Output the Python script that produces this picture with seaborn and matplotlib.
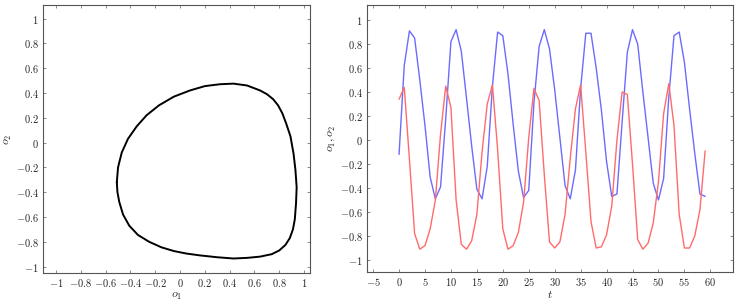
import seaborn as sns
import matplotlib.pyplot as plt
from matplotlib.ticker import MultipleLocator, FuncFormatter

# 极限环轨迹 (o1, o2)，按顺时针读取
cycle_o1 = [-0.51, -0.50, -0.47, -0.42, -0.35, -0.27, -0.17, -0.05, 0.08, 0.20,
            0.32, 0.43, 0.54, 0.645, 0.70, 0.75, 0.79, 0.825, 0.855, 0.89,
            0.915, 0.93, 0.94, 0.935, 0.925, 0.91, 0.885, 0.85, 0.80, 0.74,
            0.645, 0.54, 0.43, 0.30, 0.16, 0.05, -0.05, -0.15, -0.25, -0.34,
            -0.41, -0.46, -0.49, -0.505, -0.51]
cycle_o2 = [-0.32, -0.20, -0.08, 0.03, 0.13, 0.22, 0.30, 0.37, 0.42, 0.455,
            0.47, 0.475, 0.46, 0.42, 0.39, 0.35, 0.30, 0.235, 0.155, 0.05,
            -0.09, -0.22, -0.36, -0.49, -0.62, -0.70, -0.77, -0.825, -0.87, -0.90,
            -0.92, -0.93, -0.935, -0.925, -0.91, -0.895, -0.875, -0.845, -0.80, -0.745,
            -0.67, -0.58, -0.48, -0.40, -0.32]

# 时间序列
t = list(range(60))
o1 = [-0.12, 0.62, 0.91, 0.85, 0.50, 0.12, -0.31, -0.49, -0.39, 0.18,
      0.82, 0.92, 0.74, 0.35, -0.05, -0.41, -0.49, -0.22, 0.45, 0.90,
      0.87, 0.55, 0.13, -0.26, -0.48, -0.42, 0.31, 0.78, 0.92, 0.76,
      0.42, 0.02, -0.38, -0.49, -0.25, 0.43, 0.89, 0.89, 0.60, 0.25,
      -0.18, -0.47, -0.45, 0.15, 0.73, 0.92, 0.80, 0.40, 0.02, -0.36,
      -0.50, -0.32, 0.36, 0.87, 0.90, 0.65, 0.26, -0.11, -0.45, -0.47]
o2 = [0.34, 0.44, -0.16, -0.78, -0.91, -0.88, -0.74, -0.50, 0.05, 0.45,
      0.27, -0.50, -0.87, -0.91, -0.84, -0.62, -0.10, 0.30, 0.46, -0.08,
      -0.74, -0.91, -0.88, -0.77, -0.52, 0.02, 0.43, 0.33, -0.29, -0.85,
      -0.90, -0.85, -0.62, -0.15, 0.26, 0.46, -0.10, -0.68, -0.90, -0.89,
      -0.79, -0.55, 0.00, 0.40, 0.38, -0.20, -0.83, -0.91, -0.86, -0.69,
      -0.35, 0.22, 0.47, 0.12, -0.62, -0.90, -0.90, -0.80, -0.58, -0.09]

sns.set_style('ticks')
plt.rcParams['mathtext.fontset'] = 'cm'
plt.rcParams['font.family'] = ['DejaVu Serif']
plt.rcParams['font.size'] = 7.5


def fmt(v, pos):
    v = round(v, 2) + 0.0
    return f'${v:g}$'


fig = plt.figure(figsize=(7.43, 3.03), dpi=100)
ax1 = fig.add_axes([0.0579, 0.099, 0.3594, 0.8845])
ax2 = fig.add_axes([0.494, 0.1023, 0.4926, 0.881])

# 左图：相平面
sns.lineplot(x=cycle_o1, y=cycle_o2, sort=False, estimator=None, color='black', lw=1.4, ax=ax1)
ax1.lines[0].set_solid_joinstyle('round')
ax1.set_xlim(-1.105, 1.048)
ax1.set_ylim(-1.052, 1.109)
ax1.xaxis.set_major_locator(MultipleLocator(0.2))
ax1.yaxis.set_major_locator(MultipleLocator(0.2))
ax1.set_xlabel('$o_1$', fontsize=8.5, labelpad=0)
ax1.set_ylabel('$o_2$', fontsize=8.5, labelpad=1)

# 右图：时间序列
sns.lineplot(x=t, y=o1, estimator=None, color='#6b6bff', lw=1.0, ax=ax2)
sns.lineplot(x=t, y=o2, estimator=None, color='#ff6b6b', lw=1.0, ax=ax2)
ax2.set_xlim(-6.17, 64.38)
ax2.set_ylim(-1.1, 1.125)
ax2.xaxis.set_major_locator(MultipleLocator(5))
ax2.yaxis.set_major_locator(MultipleLocator(0.2))
ax2.set_xlabel('$t$', fontsize=8.5, labelpad=0)
ax2.set_ylabel('$o_1, o_2$', fontsize=8.5, labelpad=2)

for ax in (ax1, ax2):
    ax.xaxis.set_major_formatter(FuncFormatter(fmt))
    ax.yaxis.set_major_formatter(FuncFormatter(fmt))
    ax.tick_params(direction='in', top=True, right=True, length=2.5, width=0.6,
                   color='#777777', labelsize=7.5, pad=3)
    for s in ax.spines.values():
        s.set_color('#555555')
        s.set_linewidth(0.8)
    ax.grid(False)

plt.savefig('out.png', dpi=100)
plt.close()
